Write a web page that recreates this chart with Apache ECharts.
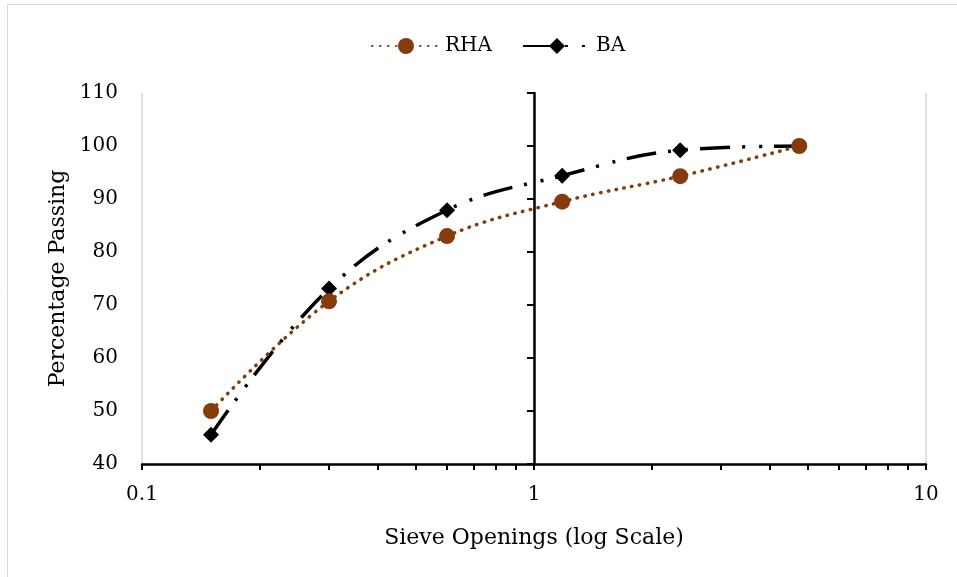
<!DOCTYPE html>
<html>
<head>
<meta charset="utf-8">
<script src="https://cdn.jsdelivr.net/npm/echarts@6/dist/echarts.min.js"></script>
<style>
  html, body { margin: 0; padding: 0; background: #fff; }
  #chart { width: 957px; height: 577px; }
</style>
</head>
<body>
<div id="chart"></div>
<script>
// Sieve analysis: cumulative percentage passing for each ash type
const sieveSizes = [0.15, 0.3, 0.6, 1.18, 2.36, 4.75];
const rhaPassing = [50, 70.7, 83, 89.5, 94.3, 100];
const baPassing = [45.5, 73.1, 87.9, 94.4, 99.2, 100];

// Axis tick values (log decades with 2..9 subdivisions)
const decadeLabels = [0.1, 1, 10];
const minorTicks = [];
[0.1, 1].forEach(function (d) {
  for (let k = 1; k < 10; k++) minorTicks.push(+(d * k).toFixed(2));
});
minorTicks.push(10);
const yMin = 40, yMax = 110, yStep = 10;

const FONT = "'DejaVu Serif', serif";
const BROWN = '#843C0C';

const pair = (xs, ys) => xs.map((x, i) => [x, ys[i]]);

const chart = echarts.init(document.getElementById('chart'), null, { renderer: 'canvas' });

chart.setOption({
  backgroundColor: '#fff',
  animation: false,
  textStyle: { fontFamily: FONT, color: '#000' },
  graphic: [{
    type: 'rect',
    shape: { x: 7.5, y: 4.5, width: 980, height: 600 },
    style: { fill: 'none', stroke: '#d9d9d9', lineWidth: 1 },
    silent: true
  }],
  legend: {
    top: 31,
    left: 366,
    itemWidth: 68,
    itemHeight: 20,
    itemGap: 30,
    textStyle: { fontFamily: FONT, fontSize: 20, color: '#000' },
    data: ['RHA', 'BA']
  },
  grid: { left: 142, right: 31, top: 93, bottom: 113, containLabel: false },
  xAxis: [{
    type: 'log',
    logBase: 10,
    min: 0.1,
    max: 10,
    position: 'bottom',
    name: 'Sieve Openings (log Scale)',
    nameLocation: 'middle',
    nameGap: 63,
    nameTextStyle: { fontFamily: FONT, fontSize: 22, color: '#000' },
    axisLine: { show: true, lineStyle: { color: '#000', width: 2.5 } },
    axisTick: { show: false },
    axisLabel: {
      fontFamily: FONT, fontSize: 20, color: '#000', margin: 21,
      customValues: decadeLabels,
      formatter: v => String(v)
    },
    splitLine: { show: true, lineStyle: { color: '#d9d9d9', width: 1.5 } }
  }, {
    type: 'log',
    logBase: 10,
    min: 0.1,
    max: 10,
    position: 'bottom',
    axisLine: { show: false },
    axisTick: {
      show: true, inside: false, length: 6,
      customValues: minorTicks,
      lineStyle: { color: '#000', width: 2 }
    },
    axisLabel: { show: false },
    splitLine: { show: false }
  }],
  yAxis: [{
    type: 'value',
    min: yMin,
    max: yMax,
    interval: yStep,
    name: 'Percentage Passing',
    nameLocation: 'middle',
    nameGap: 66,
    nameTextStyle: { fontFamily: FONT, fontSize: 22, color: '#000' },
    axisLine: { show: false },
    axisTick: { show: false },
    axisLabel: { fontFamily: FONT, fontSize: 20, color: '#000', margin: 24 },
    splitLine: { show: false }
  }, {
    // vertical axis crossing at x = 1
    type: 'value',
    min: yMin,
    max: yMax,
    interval: yStep,
    position: 'left',
    offset: -392,
    axisLine: { show: true, lineStyle: { color: '#000', width: 2.5 } },
    axisTick: { show: true, inside: false, length: 7, lineStyle: { color: '#000', width: 2 } },
    axisLabel: { show: false },
    splitLine: { show: false }
  }],
  series: [{
    name: 'RHA',
    type: 'line',
    smooth: 0.4,
    data: pair(sieveSizes, rhaPassing),
    symbol: 'circle',
    symbolSize: 16,
    itemStyle: { color: BROWN },
    lineStyle: { color: BROWN, width: 3.5, type: [0.5, 7.5], cap: 'round' },
    z: 3
  }, {
    name: 'BA',
    type: 'line',
    smooth: 0.4,
    data: pair(sieveSizes, baPassing),
    symbol: 'diamond',
    symbolSize: 16,
    itemStyle: { color: '#000' },
    lineStyle: { color: '#000', width: 3.5, type: [30, 12, 3, 14, 3, 12] },
    z: 2
  }]
});
</script>
</body>
</html>
